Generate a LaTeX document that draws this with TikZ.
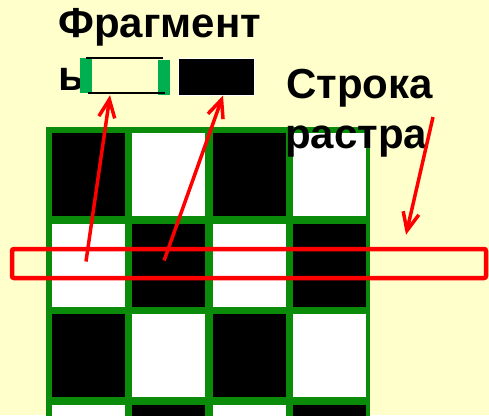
\documentclass[tikz,border=0pt]{standalone}
\usepackage{fontspec}
\setmainfont{Liberation Sans}
\usetikzlibrary{arrows.meta}
\definecolor{bg}{HTML}{FFFFCC}
\definecolor{gridgreen}{HTML}{0A8C0A}
\definecolor{bargreen}{HTML}{00B050}
\definecolor{redline}{HTML}{FF0000}
\tikzset{
  lbl/.style={anchor=base west, inner sep=0pt, font=\fontsize{42}{50}\selectfont\bfseries},
  cell/.style={inner sep=0pt, minimum width=73pt, minimum height=83pt},
  pointer/.style={draw=redline, line width=3.5pt,
    -{Straight Barb[length=18pt, width=16pt, line width=3.5pt]}},
}
\begin{document}
\begin{tikzpicture}[x=1pt, y=-1pt]
  % canvas
  \clip (0,0) rectangle (489,415);
  \fill[bg] (0,0) rectangle (489,415);

  % raster: green grid with black and white pixels
  \fill[gridgreen] (46,127) rectangle (370,500);
  \foreach \r in {1,...,4} {
    \foreach \c in {1,...,4} {
      \pgfmathtruncatemacro{\parity}{mod(\r+\c,2)}
      \ifnum\parity=0
        \node[cell, fill=black] (c\r\c) at ({88+80.6*(\c-1)}, {174.5+90.5*(\r-1)}) {};
      \else
        \node[cell, fill=white] (c\r\c) at ({88+80.6*(\c-1)}, {174.5+90.5*(\r-1)}) {};
      \fi
    }
  }

  % labels
  \node[lbl] (fragA) at (58,37) {Фрагмент};
  \node[lbl] (fragB) at (58,90) {ь};
  \node[lbl] (rowA) at (286,98) {Строка};
  \node[lbl] (rowB) at (285,148) {растра};

  % fragment of a white pixel
  \node[inner sep=0pt, minimum width=90pt, minimum height=37pt] (frag1) at (125,76.5) {};
  \fill[bargreen] (80,58) rectangle (92,93);
  \fill[bargreen] (158,60) rectangle (170,95);
  \draw[line width=2pt] (86,58) -- (163,58);
  \draw[line width=2pt] (88,93) -- (165,93);

  % fragment of a black pixel
  \node[fill=black, draw=white, line width=1pt, inner sep=0pt,
        minimum width=76pt, minimum height=37pt] (frag2) at (216,76.5) {};

  % raster row frame
  \node[draw=redline, line width=4.5pt, rounded corners=2pt, inner sep=0pt,
        minimum width=474pt, minimum height=29pt] (row) at (249,263.5) {};

  % pointers
  \coordinate (tip1) at ([xshift=-15pt]frag1.south);
  \coordinate (tip2) at ([xshift=7pt]frag2.south);
  \coordinate (tail3) at (433,117);
  \coordinate (tip3) at ([shift={(157,-12)}]row.north);
  \draw[pointer] ([shift={(-2,-3.5)}]c21.center) -- (tip1);
  \draw[pointer] ([shift={(-4.5,-4.5)}]c22.center) -- (tip2);
  \draw[pointer] (tail3) -- (tip3);
\end{tikzpicture}
\end{document}
